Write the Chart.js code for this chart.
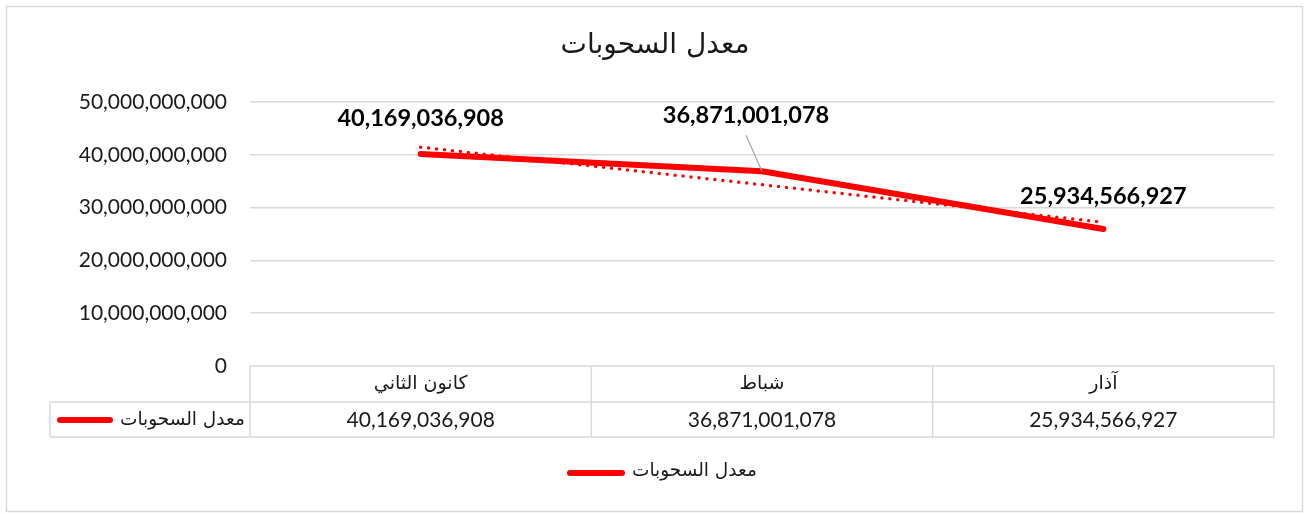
<!DOCTYPE html>
<html>
<head>
<meta charset="utf-8">
<script src="https://cdn.jsdelivr.net/npm/chart.js@4/dist/chart.umd.min.js"></script>
<style>
  html, body { margin: 0; padding: 0; background: #fff; }
  #wrap { width: 1309px; height: 514px; position: relative; }
</style>
</head>
<body>
<div id="wrap"><canvas id="chart"></canvas></div>
<script>
// data
const title = "معدل السحوبات";
const seriesName = "معدل السحوبات";
const months = ["كانون الثاني", "شباط", "آذار"];
const withdrawals = [40169036908, 36871001078, 25934566927];
// linear trendline as drawn (dotted)
const trendValues = [41442000000, 34325000000, 27208000000];
const yTicks = [0, 10000000000, 20000000000, 30000000000, 40000000000, 50000000000];

const numFont = "Lato, 'Open Sans', sans-serif";
const arFont = "'DejaVu Sans', sans-serif";
const fmt = (v) => v.toLocaleString("en-US");

// title, table, legend, labels, frame
const decorations = {
  id: "decorations",
  afterDatasetsDraw(chart) {
    const { ctx, chartArea } = chart;
    const x = chart.scales.x;
    const y = chart.scales.y;
    ctx.save();

    // outer frame
    ctx.strokeStyle = "#d9d9d9";
    ctx.lineWidth = 1.5;
    ctx.strokeRect(6.5, 6.5, 1296, 505);

    // title
    ctx.fillStyle = "#1a1a1a";
    ctx.font = "28px " + arFont;
    ctx.textAlign = "center";
    ctx.textBaseline = "middle";
    ctx.fillText(title, 655, 46);

    // data labels
    const offsets = [[0, -35], [-16, -56], [0, -33]];
    ctx.font = "bold 23.5px " + numFont;
    withdrawals.forEach((v, i) => {
      const px = x.getPixelForValue(i);
      const py = y.getPixelForValue(v);
      ctx.fillStyle = "#000";
      ctx.fillText(fmt(v), px + offsets[i][0], py + offsets[i][1]);
    });
    // leader line for second label
    {
      const px = x.getPixelForValue(1);
      const py = y.getPixelForValue(withdrawals[1]);
      ctx.strokeStyle = "#a6a6a6";
      ctx.lineWidth = 1.2;
      ctx.beginPath();
      ctx.moveTo(px - 16, py - 36);
      ctx.lineTo(px, py);
      ctx.stroke();
    }

    // data table
    const top = chartArea.bottom;
    const rowH = 36;
    const mid = top + rowH;
    const bottom = top + rowH * 2 - 1;
    const left = chartArea.left;
    const right = chartArea.right;
    const keyLeft = 50;
    ctx.strokeStyle = "#d9d9d9";
    ctx.lineWidth = 1.5;
    ctx.beginPath();
    ctx.moveTo(left, top); ctx.lineTo(right, top);
    ctx.moveTo(keyLeft, mid); ctx.lineTo(right, mid);
    ctx.moveTo(keyLeft, bottom); ctx.lineTo(right, bottom);
    ctx.moveTo(keyLeft, mid); ctx.lineTo(keyLeft, bottom);
    const step = (right - left) / months.length;
    for (let i = 0; i <= months.length; i++) {
      const lx = left + step * i;
      ctx.moveTo(lx, top); ctx.lineTo(lx, bottom);
    }
    ctx.stroke();

    ctx.fillStyle = "#1a1a1a";
    months.forEach((m, i) => {
      const cx = x.getPixelForValue(i);
      ctx.font = "19px " + arFont;
      ctx.fillText(m, cx, top + rowH / 2);
      ctx.font = "21px " + numFont;
      ctx.fillText(fmt(withdrawals[i]), cx, mid + rowH / 2);
    });

    // legend key inside table
    const drawKey = (x0, x1, yy) => {
      ctx.strokeStyle = "#ff0000";
      ctx.lineWidth = 6;
      ctx.lineCap = "round";
      ctx.beginPath();
      ctx.moveTo(x0, yy); ctx.lineTo(x1, yy);
      ctx.stroke();
    };
    drawKey(60, 110, mid + rowH / 2);
    ctx.fillStyle = "#1a1a1a";
    ctx.font = "18.5px " + arFont;
    ctx.textAlign = "left";
    ctx.fillText(seriesName, 120, mid + rowH / 2);

    // bottom legend
    drawKey(570, 622, 473);
    ctx.fillText(seriesName, 632, 471);

    ctx.restore();
  }
};

new Chart(document.getElementById("chart"), {
  type: "line",
  data: {
    labels: months,
    datasets: [
      {
        label: seriesName,
        data: withdrawals,
        borderColor: "#ff0000",
        borderWidth: 6,
        borderCapStyle: "round",
        borderJoinStyle: "round",
        pointRadius: 0,
        tension: 0,
        order: 1,
      },
      {
        label: "trend",
        data: trendValues,
        borderColor: "#ff0000",
        borderWidth: 3.5,
        borderCapStyle: "round",
        borderDash: [0, 8],
        pointRadius: 0,
        tension: 0,
        order: 2,
      },
    ],
  },
  options: {
    responsive: true,
    maintainAspectRatio: false,
    animation: false,
    layout: { padding: { left: 0, right: 35, top: 102, bottom: 148 } },
    plugins: {
      legend: { display: false },
      title: { display: false },
      tooltip: { enabled: false },
    },
    scales: {
      x: {
        display: false,
        offset: true,
      },
      y: {
        min: 0,
        max: 50000000000,
        afterBuildTicks: (scale) => {
          scale.ticks = yTicks.map((v) => ({ value: v }));
        },
        afterFit: (scale) => {
          scale.width = 250;
        },
        border: { display: false },
        grid: {
          color: (c) => (c.tick && c.tick.value === 0 ? "rgba(0,0,0,0)" : "#d9d9d9"),
          lineWidth: 1.5,
          drawTicks: false,
        },
        ticks: {
          padding: 23,
          color: "#1a1a1a",
          font: { family: numFont, size: 21 },
          callback: (v) => fmt(v),
        },
      },
    },
  },
  plugins: [decorations],
});
</script>
</body>
</html>
